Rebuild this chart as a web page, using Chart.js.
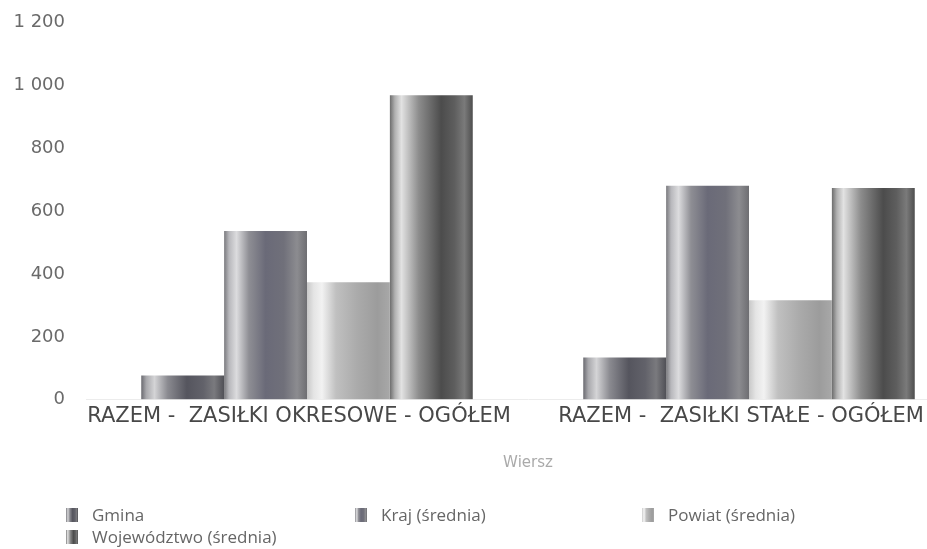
<!DOCTYPE html>
<html>
<head>
<meta charset="utf-8">
<script src="https://cdn.jsdelivr.net/npm/chart.js@4/dist/chart.umd.min.js"></script>
<style>
html,body{margin:0;padding:0;background:#fff;overflow:hidden;width:927px;height:549px;}
#wrap{position:relative;width:1000px;height:549px;}
#legend{position:absolute;left:0;top:504px;width:1000px;font-family:"Open Sans",sans-serif;font-size:17px;color:#666;}
.li{position:absolute;height:22px;line-height:22px;white-space:nowrap;}
.sw{position:absolute;left:0;top:4px;width:12px;height:14px;}
.tx{position:absolute;left:26px;top:0;}
</style>
</head>
<body>
<div id="wrap">
<canvas id="c" width="1000" height="549"></canvas>
<div id="legend"></div>
</div>
<script>
const categories = ["RAZEM -  ZASIŁKI OKRESOWE - OGÓŁEM", "RAZEM -  ZASIŁKI STAŁE - OGÓŁEM"];
const seriesNames = ["Gmina", "Kraj (średnia)", "Powiat (średnia)", "Województwo (średnia)"];
const gmina = [77, 134];
const kraj = [536, 680];
const powiat = [373, 316];
const wojewodztwo = [967, 673];
const yTicks = [0, 200, 400, 600, 800, 1000, 1200];
const axisTitle = "Wiersz";

const stops = [
  [[0,'#6a6a70'],[0.06,'#a8a8ac'],[0.16,'#d4d4d6'],[0.32,'#8a8a90'],[0.55,'#55555e'],[0.75,'#62626a'],[0.88,'#7a7a7e'],[1,'#505056']],
  [[0,'#7a7a7e'],[0.06,'#b8b8bc'],[0.15,'#dcdcde'],[0.3,'#8e8e94'],[0.5,'#6a6a78'],[0.72,'#70707a'],[0.88,'#8c8c90'],[1,'#6e6e72']],
  [[0,'#c8c8c8'],[0.08,'#e4e4e4'],[0.18,'#f2f2f2'],[0.35,'#c0c0c0'],[0.6,'#ababab'],[0.85,'#9c9c9c'],[1,'#a8a8a8']],
  [[0,'#6c6c6c'],[0.06,'#b0b0b0'],[0.14,'#e2e2e2'],[0.35,'#8c8c8c'],[0.62,'#4c4c4c'],[0.78,'#5e5e5e'],[0.9,'#7a7a7a'],[1,'#4e4e4e']]
];

const CAT_PCT = 0.75;
function barGradient(ctx) {
  const chart = ctx.chart;
  const xs = chart.scales && chart.scales.x;
  const st = stops[ctx.datasetIndex];
  if (!xs || !chart.chartArea || ctx.dataIndex === undefined) return st[3] ? st[3][1] : '#888';
  const n = chart.data.labels.length;
  const catW = xs.width / n;
  const groupW = catW * CAT_PCT;
  const nds = chart.data.datasets.length;
  const bw = groupW / nds;
  const center = xs.getPixelForValue(ctx.dataIndex);
  const left = center - groupW / 2 + ctx.datasetIndex * bw;
  const g = chart.ctx.createLinearGradient(left, 0, left + bw, 0);
  st.forEach(s => g.addColorStop(s[0], s[1]));
  return g;
}

const seriesValues = [gmina, kraj, powiat, wojewodztwo];
const datasets = seriesNames.map((name, i) => ({
  label: name,
  data: seriesValues[i],
  backgroundColor: barGradient,
  borderWidth: 0,
  categoryPercentage: CAT_PCT,
  barPercentage: 1.0
}));

function fmt(v) { return String(v).replace(/\B(?=(\d{3})+(?!\d))/g, ' '); }

new Chart(document.getElementById('c'), {
  type: 'bar',
  data: { labels: categories, datasets: datasets },
  options: {
    responsive: false,
    animation: false,
    layout: { padding: { left: 10, right: 30, top: 22, bottom: 77 } },
    plugins: { legend: { display: false }, tooltip: { enabled: false } },
    scales: {
      y: {
        min: yTicks[0], max: yTicks[yTicks.length - 1],
        afterBuildTicks: s => { s.ticks = yTicks.map(v => ({ value: v })); },
        afterFit: s => { s.width = 76; },
        grid: { display: true, color: 'rgba(0,0,0,0)', drawOnChartArea: false, drawTicks: true, tickLength: 18 },
        border: { display: false },
        ticks: { padding: 3, color: '#6a6a6a', font: { family: '"DejaVu Sans", sans-serif', size: 18 }, callback: v => fmt(v) }
      },
      x: {
        grid: { display: false, drawTicks: false },
        border: { display: true, color: '#ececec' },
        ticks: { padding: 4, labelOffset: -8, color: '#484848', maxRotation: 0, autoSkip: false, font: { family: '"DejaVu Sans", sans-serif', size: 21 } },
        title: { display: true, text: axisTitle, color: '#aaa', padding: { top: 21, bottom: 0 }, font: { family: '"DejaVu Sans", sans-serif', size: 15 } }
      }
    }
  }
});

// HTML legend built from the datasets
const legendPos = [[66, 0], [355, 0], [642, 0], [66, 22]];
const lg = document.getElementById('legend');
seriesNames.forEach((name, i) => {
  const d = document.createElement('div');
  d.className = 'li';
  d.style.left = legendPos[i][0] + 'px';
  d.style.top = legendPos[i][1] + 'px';
  const sw = document.createElement('span');
  sw.className = 'sw';
  sw.style.background = 'linear-gradient(to right,' + stops[i].map(s => s[1] + ' ' + (s[0] * 100) + '%').join(',') + ')';
  const tx = document.createElement('span');
  tx.className = 'tx';
  tx.textContent = name;
  d.appendChild(sw); d.appendChild(tx);
  lg.appendChild(d);
});
</script>
</body>
</html>
